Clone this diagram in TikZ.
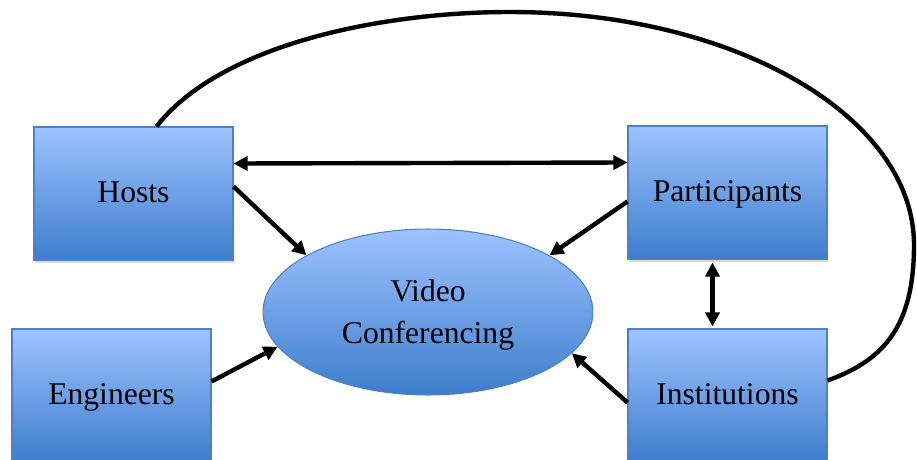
\documentclass[tikz,border=0pt]{standalone}
\usepackage{fontspec}
\setmainfont{Liberation Serif}
\usetikzlibrary{arrows.meta,shapes.geometric,calc,shadows}
\definecolor{boxtop}{RGB}{157,195,255}
\definecolor{boxbot}{RGB}{62,125,204}
\definecolor{boxline}{RGB}{79,129,189}

\begin{document}
\begin{tikzpicture}[x=0.02cm, y=-0.02cm,
    box/.style={draw=boxline, line width=0.6pt, top color=boxtop, bottom color=boxbot,
      minimum width=3.98cm, minimum height=2.66cm, inner sep=0pt,
      text height=12.6pt, text depth=1.8pt, font=\fontsize{18}{24}\selectfont,
      drop shadow={opacity=0.3, shadow xshift=0.6pt, shadow yshift=-1.5pt}},
    bubble/.style={ellipse, draw=boxline, line width=0.6pt, top color=boxtop, bottom color=boxbot,
      minimum width=6.6cm, minimum height=3.32cm, inner sep=0pt, align=center,
      font=\fontsize{18}{24}\selectfont},
    link/.style={line width=2.5pt, -{Triangle[length=8pt,width=8pt]}},
    both/.style={line width=2.5pt, {Triangle[length=8pt,width=8pt]}-{Triangle[length=8pt,width=8pt]}}]
    \useasboundingbox (0,0) rectangle (917,460) ;

    \node [box] (hosts) at (133.5,193.5) {Hosts} ;
    \node [box] (parts) at (727.5,192.5) {Participants} ;
    \node [box] (engs) at (111.5,395.5) {Engineers} ;
    \node [box] (inst) at (727.5,395.5) {Institutions} ;
    \node [bubble] (vc) at (428,312) {\rule{0pt}{16pt}Video\\Conferencing} ;

    \draw [both] ($(hosts.east)+(0,-30)$) -- ($(parts.west)+(0,-30)$) ;
    \draw [link] ($(hosts.east)+(0,-7)$) -- (vc.155) ;
    \draw [link] ($(parts.west)+(0,9)$) -- (vc.25) ;
    \draw [link] ($(engs.east)+(0,-14)$) -- (vc.193) ;
    \draw [link] ($(inst.west)+(0,7)$) -- (vc.-16) ;
    \draw [both] ($(parts.south)+(-15,3)$) -- ($(inst.north)+(-15,-2)$) ;

    \draw [line width=2.5pt] ($(hosts.north)+(23,0)$) .. controls (220,45) and (380,12) .. (510,12)
      .. controls (734,12) and (914,116) .. (914,245)
      .. controls (914,325) and (885,360) .. ($(inst.east)+(0,-15)$) ;
\end{tikzpicture}
\end{document}
